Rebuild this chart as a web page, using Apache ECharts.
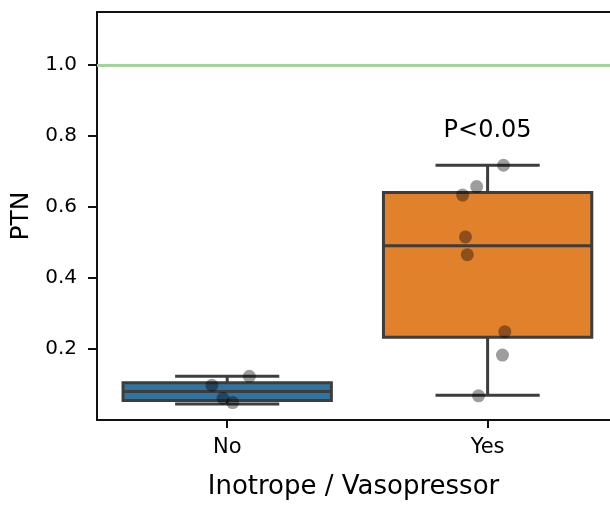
<!DOCTYPE html>
<html>
<head>
<meta charset="utf-8">
<script src="https://cdn.jsdelivr.net/npm/echarts@6/dist/echarts.min.js"></script>
<style>html,body{margin:0;padding:0;background:#fff;}#c{width:610px;height:505px;}</style>
</head>
<body>
<div id="c"></div>
<script>
const categories = ['No', 'Yes'];
const whiskerLow = [0.045, 0.070];
const q1 = [0.055, 0.233];
const median = [0.080, 0.491];
const q3 = [0.105, 0.641];
const whiskerHigh = [0.123, 0.718];
const noPoints = [0.123, 0.098, 0.061, 0.049];
const noJitter = [0.085, -0.059, -0.016, 0.021];
const yesPoints = [0.718, 0.658, 0.634, 0.516, 0.466, 0.249, 0.183, 0.068];
const yesJitter = [0.061, -0.042, -0.096, -0.085, -0.078, 0.066, 0.057, -0.035];
const yTicks = [0.2, 0.4, 0.6, 0.8, 1.0];
const referenceLine = 1.0;
const pText = 'P<0.05';
const pValueY = 0.814;

const boxColors = ['#3274a1', '#e1812c'];
const edge = '#3d3d3d';
const FONT = 'DejaVu Sans';
const INK = '#000';
const SPINE = '#111';

const catIdx = categories.map((c, i) => i);
const boxData = categories.map((c, i) => [i, whiskerLow[i], q1[i], median[i], q3[i], whiskerHigh[i]]);
const pointData = [];
noPoints.forEach((v, i) => pointData.push([0 + noJitter[i], v]));
yesPoints.forEach((v, i) => pointData.push([1 + yesJitter[i], v]));

const chart = echarts.init(document.getElementById('c'), null, {renderer: 'canvas'});
chart.setOption({
  animation: false,
  backgroundColor: '#fff',
  textStyle: {fontFamily: FONT},
  grid: {left: 97, top: 12, bottom: 81, right: 0, show: false, containLabel: false},
  xAxis: [{
    type: 'value',
    min: -0.5, max: 1.47,
    axisLine: {onZero: false, lineStyle: {color: SPINE, width: 2}},
    axisTick: {length: 8, customValues: catIdx, lineStyle: {color: SPINE, width: 2}},
    axisLabel: {color: INK, fontSize: 21, fontFamily: FONT, margin: 17, customValues: catIdx,
      formatter: v => categories[Math.round(v)]},
    name: 'Inotrope / Vasopressor',
    nameLocation: 'middle',
    nameGap: 54,
    nameTextStyle: {color: INK, fontSize: 26, fontFamily: FONT},
    splitLine: {show: false}
  }, {
    type: 'value', min: -0.5, max: 1.47, position: 'top',
    axisLine: {show: true, onZero: false, lineStyle: {color: SPINE, width: 2}},
    axisTick: {show: false}, axisLabel: {show: false}, splitLine: {show: false}
  }],
  yAxis: {
    type: 'value',
    min: 0, max: 1.15,
    axisLine: {show: true, onZero: false, lineStyle: {color: SPINE, width: 2}},
    axisTick: {show: true, length: 9, customValues: yTicks, lineStyle: {color: SPINE, width: 2}},
    axisLabel: {color: INK, fontSize: 20, fontFamily: FONT, margin: 20, customValues: yTicks,
      formatter: v => v.toFixed(1)},
    splitLine: {show: false},
    name: 'PTN',
    nameLocation: 'middle',
    nameGap: 63,
    nameTextStyle: {color: INK, fontSize: 25, fontFamily: FONT}
  },
  series: [{
    type: 'custom',
    xAxisIndex: 0,
    z: 2,
    data: boxData,
    encode: {x: 0, y: [1, 2, 3, 4, 5]},
    renderItem: function (params, api) {
      const i = api.value(0);
      const unit = api.size([1, 0])[0];
      const bw = unit * 0.8, cw = unit * 0.4;
      const pLow = api.coord([i, api.value(1)]);
      const pQ1 = api.coord([i, api.value(2)]);
      const pMed = api.coord([i, api.value(3)]);
      const pQ3 = api.coord([i, api.value(4)]);
      const pHigh = api.coord([i, api.value(5)]);
      const cx = pQ1[0];
      const ls = {stroke: edge, lineWidth: 3, fill: null};
      return {
        type: 'group',
        children: [
          {type: 'line', shape: {x1: cx, y1: pQ3[1], x2: cx, y2: pHigh[1]}, style: ls},
          {type: 'line', shape: {x1: cx, y1: pQ1[1], x2: cx, y2: pLow[1]}, style: ls},
          {type: 'line', shape: {x1: cx - cw / 2, y1: pHigh[1], x2: cx + cw / 2, y2: pHigh[1]}, style: ls},
          {type: 'line', shape: {x1: cx - cw / 2, y1: pLow[1], x2: cx + cw / 2, y2: pLow[1]}, style: ls},
          {type: 'rect', shape: {x: cx - bw / 2, y: pQ3[1], width: bw, height: pQ1[1] - pQ3[1]},
            style: {fill: boxColors[i], stroke: edge, lineWidth: 3}},
          {type: 'line', shape: {x1: cx - bw / 2, y1: pMed[1], x2: cx + bw / 2, y2: pMed[1]}, style: ls}
        ]
      };
    },
    markLine: {
      silent: true,
      symbol: 'none',
      label: {show: false},
      lineStyle: {color: '#a3d49c', width: 3, type: 'solid', opacity: 1},
      data: [{yAxis: referenceLine}]
    }
  }, {
    type: 'scatter',
    xAxisIndex: 0,
    z: 5,
    symbolSize: 13,
    itemStyle: {color: 'rgba(0,0,0,0.48)'},
    data: pointData
  }, {
    type: 'custom',
    xAxisIndex: 0,
    z: 6,
    data: [[1, pValueY]],
    renderItem: function (params, api) {
      const p = api.coord([api.value(0), api.value(1)]);
      return {
        type: 'text',
        x: p[0], y: p[1],
        style: {text: pText, fill: INK, font: '24px "DejaVu Sans"', align: 'center', verticalAlign: 'middle'}
      };
    }
  }]
});
</script>
</body>
</html>
